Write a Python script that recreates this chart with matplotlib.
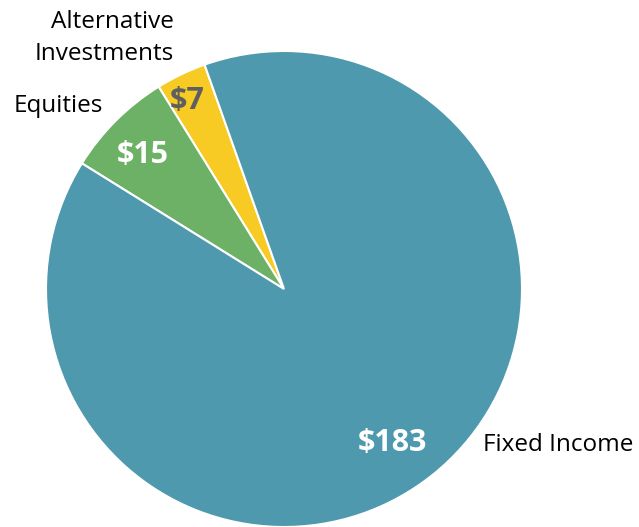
import numpy as np
import matplotlib
matplotlib.use("Agg")
import matplotlib.pyplot as plt

plt.rcParams["font.family"] = ["Open Sans", "DejaVu Sans"]

# data
categories = ["Alternative\nInvestments", "Equities", "Fixed Income"]
values = [7, 15, 183]
value_labels = ["$7", "$15", "$183"]
colors = ["#F8CA24", "#6CB166", "#4F99AE"]
value_colors = ["#5F5F5F", "white", "white"]

fig = plt.figure(figsize=(6.39, 5.27), dpi=100)
ax = fig.add_axes([0, 0, 1, 1])

R = 238.0
cx, cy = 284.0, 289.0

wedges, _ = ax.pie(values, colors=colors, startangle=109.5, counterclock=True,
                   radius=1.0, center=(0, 0), frame=True,
                   wedgeprops=dict(edgecolor="white", linewidth=1.5))
ax.set_xlim(-cx / R, (639 - cx) / R)
ax.set_ylim(-(527 - cy) / R, cy / R)
ax.set_aspect("equal")
ax.axis("off")


def px(x, y):
    return (x - cx) / R, (cy - y) / R


value_pos = [(187, 101), (143, 155), (392, 443)]
for lab, col, (x, y) in zip(value_labels, value_colors, value_pos):
    ax.text(*px(x, y), lab, color=col, fontsize=22, fontweight="bold",
            ha="center", va="center")

ax.text(*px(174, 38), categories[0], ha="right", va="center", fontsize=17.5,
        linespacing=1.4)
ax.text(*px(14, 106), categories[1], ha="left", va="center", fontsize=17.5)
ax.text(*px(483, 445), categories[2], ha="left", va="center", fontsize=17.5)

fig.savefig("out.png", dpi=100)
